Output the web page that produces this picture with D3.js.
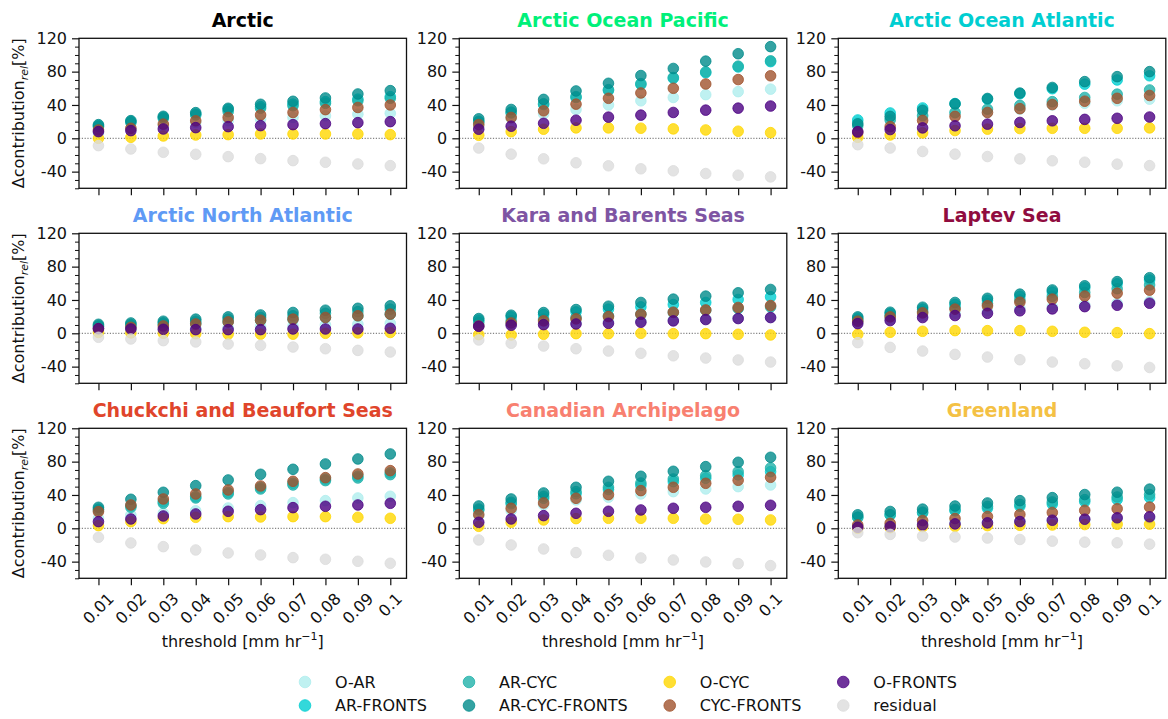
<!DOCTYPE html>
<html>
<head>
<meta charset="utf-8">
<script src="https://cdn.jsdelivr.net/npm/d3@7"></script>
<style>
  html, body { margin: 0; padding: 0; background: #fff; }
  svg { display: block; font-family: "DejaVu Sans", sans-serif; }
</style>
</head>
<body>
<svg id="chart" width="1168" height="719"></svg>
<script>
// Threshold categories (mm/hr)
const thresholds = ["0.01", "0.02", "0.03", "0.04", "0.05", "0.06", "0.07", "0.08", "0.09", "0.1"];

// Series, in drawing order
const seriesNames = ["O-AR", "AR-FRONTS", "AR-CYC", "AR-CYC-FRONTS", "O-CYC", "CYC-FRONTS", "O-FRONTS", "residual"];
const seriesColors = ["#afeeee", "#00ced1", "#20b2aa", "#008b8b", "#ffd700", "#a0522d", "#4b0082", "#dcdcdc"];

// Region panels
const regionNames = ["Arctic", "Arctic Ocean Pacific", "Arctic Ocean Atlantic",
  "Arctic North Atlantic", "Kara and Barents Seas", "Laptev Sea",
  "Chuckchi and Beaufort Seas", "Canadian Archipelago", "Greenland"];
const regionColors = ["#000000", "#00f07a", "#00ced1",
  "#5f9af5", "#7e55a3", "#900c3f",
  "#e0452b", "#f88070", "#f4c144"];

const yTickValues = [-40, 0, 40, 80, 120];

// Δcontribution_rel [%] per region; rows follow seriesNames, columns follow thresholds
const arctic = [
  [7, 11, 15, 19, 21, 23, 25, 27, 29, 30],
  [15, 20, 25, 29, 34.4, 38, 41, 44, 47, 50],
  [14, 19, 24, 28, 32, 36, 39, 42, 45, 48],
  [16.4, 21.2, 26.4, 30.8, 36, 40.8, 44.4, 48.4, 53.2, 57.2],
  [0, 1.2, 2.8, 4, 4.4, 5.2, 5.2, 5.2, 5.2, 4.4],
  [10, 12, 17, 21, 25, 28, 31, 34.4, 37, 40],
  [8, 9.2, 11.2, 12.8, 14, 15.2, 16.4, 17.6, 18.8, 20],
  [-8.8, -12.8, -16.8, -19.2, -22, -24.4, -26.8, -28.8, -30.8, -32.8]
];
const arcticOceanPacific = [
  [15, 24, 29.4, 34.6, 40, 45, 49, 52.4, 56, 59],
  [19.5, 30.4, 40.5, 49, 57.4, 64.6, 72, 78.7, 85.6, 92],
  [20.5, 31.4, 41.5, 50, 58.4, 65.6, 72.9, 79.7, 86.6, 93],
  [23.4, 34.6, 46.7, 56.8, 66, 75.3, 83.8, 92.6, 101.5, 110],
  [3.6, 8, 10.9, 12.5, 12.5, 12.1, 11.3, 10, 8.5, 6.8],
  [16.5, 25, 33, 41, 48, 54.4, 60, 65.2, 70.5, 75],
  [10.9, 14.5, 18, 21.7, 25.4, 27.8, 31, 33.8, 36.2, 38.7],
  [-11.7, -19, -24.6, -29.4, -33, -36.6, -39, -42.3, -44.3, -46.3]
];
const arcticOceanAtlantic = [
  [19, 24, 28, 30, 31, 35, 40, 42, 45, 47],
  [22, 30.4, 36.4, 41.7, 47, 53.4, 59.5, 65, 70, 75],
  [15, 22, 27, 31, 35, 39.5, 44, 49, 53, 58],
  [17.4, 26.3, 33.6, 41.3, 47.8, 54.3, 61, 68, 74, 80],
  [1.2, 4, 6.5, 9.3, 11, 11.7, 12, 12, 12, 12.5],
  [7, 14, 21.5, 26.3, 31, 35.6, 40.5, 44.5, 48, 51.4],
  [8, 10.5, 12.5, 15, 17, 19, 21, 22.7, 24, 25.5],
  [-7.7, -11.7, -15.8, -19, -21.9, -24.7, -27, -28.7, -31, -32.8]
];
const arcticNorthAtlantic = [
  [3, 4, 5, 6, 7, 8, 9, 10, 11, 12],
  [8, 9, 11, 12, 14, 15.5, 17, 19, 21, 23],
  [9, 10.5, 12.5, 14.5, 17, 19, 21, 24, 26, 29],
  [10.8, 12.4, 14.5, 17, 19.7, 22, 25, 27.7, 30, 33],
  [1, 0.5, 0, -0.5, -1, -1, -1, 0, 0.5, 1],
  [5.6, 7.2, 8.8, 11.2, 13.7, 15.7, 17, 19, 21, 23],
  [5.6, 5.2, 4.8, 4.4, 4.4, 4.4, 5.2, 5.2, 5.2, 6],
  [-4.8, -6.8, -8.8, -10.4, -12.9, -14.5, -16.5, -18.5, -20.5, -22.5]
];
const karaBarents = [
  [9, 11, 12, 13, 14, 15, 16, 17, 18, 19],
  [15.7, 19.7, 22.5, 25.7, 29, 31.7, 34.5, 37, 40.6, 43.8],
  [13, 15, 17, 19, 21, 23, 25, 27.7, 29.7, 31.7],
  [17.7, 21.7, 24.9, 28.5, 32.5, 37, 41, 44.6, 48.6, 52.6],
  [-1.6, -2, -1.2, -0.4, -0.4, 0, -0.4, -0.4, -1.2, -2],
  [8.8, 12.4, 14.9, 17.3, 20, 22.9, 25.3, 28, 31, 33.3],
  [8.4, 9.6, 10.4, 11.2, 12, 13.3, 14.9, 16.5, 17.7, 18.9],
  [-8, -12, -15.3, -18.5, -21.3, -24, -27, -29.7, -32, -34.5]
];
const laptev = [
  [13, 17, 21, 24, 27, 30, 32, 34, 36, 38],
  [18, 23.5, 29, 34.5, 39.5, 44.5, 49.5, 54.5, 59.5, 64],
  [16, 21, 26, 31, 35.5, 40, 44.5, 49, 53.5, 58],
  [19.7, 25.3, 31.3, 37, 42, 47, 52, 57, 62, 66.7],
  [-1.2, 1.2, 2.4, 3.2, 3.2, 3.2, 2.4, 1.2, 0.8, -0.4],
  [14.5, 19.7, 24.5, 29, 33, 37.3, 41, 44.6, 48.2, 51.8],
  [11.6, 15.3, 18.9, 21.3, 24, 27, 29.3, 32, 33.7, 36.1],
  [-11.2, -16.9, -21.3, -25.3, -28.5, -31.7, -34.5, -36.5, -39, -41]
];
const chukchiBeaufort = [
  [12, 16, 18, 21, 24.4, 27.2, 30.8, 33.2, 36.4, 38.4],
  [23, 27, 32, 38, 43, 49, 54, 59, 62.5, 66.5],
  [22, 25.2, 30, 36.4, 41.2, 47.2, 52, 57.2, 60.4, 64.4],
  [25.2, 34.8, 43.2, 51.2, 58, 64.8, 70.8, 77.2, 83.2, 89.2],
  [3.2, 8, 11.6, 13.2, 14, 13.6, 14, 14, 13.2, 12],
  [20, 28, 35.2, 41.2, 46, 50.8, 56.4, 60.8, 65.2, 69.2],
  [8, 11.2, 14.8, 17.2, 20.4, 22.4, 24.8, 26.4, 28, 30],
  [-10.8, -17.6, -22, -26, -29.6, -32, -35.2, -37.2, -39.6, -42]
];
const canadianArchipelago = [
  [15.2, 21.2, 28.4, 34, 37.2, 41.2, 44, 47.2, 50, 52],
  [22, 29.5, 36, 41.5, 46.5, 51.5, 56, 60, 64, 68],
  [23.2, 31.2, 38.4, 44, 49.2, 54.4, 59.2, 63.2, 68, 72.4],
  [26.8, 35.2, 42.4, 49.2, 56.4, 62.4, 68.4, 74, 79.2, 85.2],
  [2.4, 7.2, 10, 11.6, 12, 12, 12, 11.2, 10.8, 10],
  [16.4, 24, 30.4, 36, 40.4, 45.2, 49.2, 54, 57.6, 61.2],
  [7.2, 11.2, 15.2, 18, 20.4, 22, 24, 25.2, 26.4, 27.6],
  [-14, -20, -24.8, -29.2, -32.4, -35.6, -38, -40.4, -42.4, -44.8]
];
const greenland = [
  [2, 3, 5, 6, 7, 8, 9, 10, 11, 12],
  [13, 16, 18.5, 21, 24, 26.5, 29, 32, 34.5, 37],
  [13.4, 16.2, 19.4, 22.7, 26.3, 28.7, 31.6, 34.4, 37.6, 40.5],
  [16.2, 20.2, 23, 26.7, 30.4, 33.2, 36.8, 40.5, 43.3, 47],
  [0, 0.8, 2, 2.4, 3.2, 3.6, 4, 4.5, 4.9, 4.9],
  [4, 6, 9.3, 11.7, 14.2, 16.6, 19, 21.5, 23.5, 25.5],
  [1.2, 2, 4, 5.3, 6.5, 8.1, 9.7, 10.9, 12.6, 13.8],
  [-5.3, -7.3, -9.3, -10.5, -11.7, -13.4, -15.4, -16.6, -17.4, -19]
];
const regionValues = [arctic, arcticOceanPacific, arcticOceanAtlantic,
  arcticNorthAtlantic, karaBarents, laptev,
  chukchiBeaufort, canadianArchipelago, greenland];

// ---- layout ----
const svg = d3.select("#chart");
const colLeft = [79, 459.3, 838.3];
const rowTop = [38.3, 233.3, 428.3];
const panelW = 327.5, panelH = 150;
const markerR = 5.3;
const tickFont = 16;

const x = d3.scaleLinear().domain([-0.6, 9.5]).range([0, panelW]);
const y = d3.scaleLinear().domain([-60, 120]).range([panelH, 0]);

regionNames.forEach((name, i) => {
  const row = Math.floor(i / 3), col = i % 3;
  const g = svg.append("g").attr("transform", `translate(${colLeft[col]},${rowTop[row]})`);
  const values = regionValues[i];

  // zero reference line
  g.append("line")
    .attr("x1", 0).attr("x2", panelW)
    .attr("y1", y(0)).attr("y2", y(0))
    .attr("stroke", "#666").attr("stroke-width", 1)
    .attr("stroke-dasharray", "1.2,1.6");

  // scatter points, one layer per series
  seriesNames.forEach((s, si) => {
    g.append("g").selectAll("circle")
      .data(values[si])
      .join("circle")
      .attr("cx", (d, k) => x(k))
      .attr("cy", d => y(d))
      .attr("r", markerR)
      .attr("fill", seriesColors[si])
      .attr("fill-opacity", 0.8)
      .attr("stroke", seriesColors[si])
      .attr("stroke-opacity", 0.8)
      .attr("stroke-width", 1);
  });

  // frame
  g.append("rect")
    .attr("width", panelW).attr("height", panelH)
    .attr("fill", "none").attr("stroke", "#111").attr("stroke-width", 1.3);

  // y axis: major + minor ticks
  const yAxis = d3.axisLeft(y).tickValues(yTickValues).tickSize(7).tickPadding(5)
    .tickFormat(d => d < 0 ? "-" + Math.abs(d) : String(d));
  const ya = g.append("g").call(yAxis);
  ya.select(".domain").remove();
  ya.selectAll("line").attr("stroke", "#111").attr("stroke-width", 1.2);
  ya.selectAll("text").attr("font-size", tickFont).attr("fill", "#111")
    .attr("font-family", "DejaVu Sans");
  const minor = d3.range(-60, 121, 10).filter(v => !yTickValues.includes(v));
  const ym = g.append("g").call(d3.axisLeft(y).tickValues(minor).tickSize(4).tickFormat(""));
  ym.select(".domain").remove();
  ym.selectAll("line").attr("stroke", "#111").attr("stroke-width", 1);

  // x axis ticks
  const xAxis = d3.axisBottom(x).tickValues(d3.range(thresholds.length)).tickSize(7).tickFormat("");
  const xa = g.append("g").attr("transform", `translate(0,${panelH})`).call(xAxis);
  xa.select(".domain").remove();
  xa.selectAll("line").attr("stroke", "#111").attr("stroke-width", 1.2);

  // rotated threshold labels, bottom row only
  if (row === 2) {
    const lab = g.append("g");
    thresholds.forEach((t, k) => {
      const txt = lab.append("text")
        .attr("font-size", tickFont).attr("fill", "#111")
        .attr("text-anchor", "middle").attr("dominant-baseline", "central")
        .text(t);
      const w = txt.node().getComputedTextLength();
      const half = (w + tickFont * 1.15) / Math.SQRT2 / 2;
      const cx = x(k), cy = panelH + 7 + 4 + half;
      txt.attr("x", cx).attr("y", cy).attr("transform", `rotate(-45,${cx},${cy})`);
    });
    const xl = g.append("text")
      .attr("x", panelW / 2).attr("y", 647 - rowTop[2])
      .attr("text-anchor", "middle").attr("font-size", 16).attr("fill", "#111");
    xl.append("tspan").text("threshold [mm hr");
    xl.append("tspan").attr("font-size", 11).attr("dy", -7).text("\u22121");
    xl.append("tspan").attr("dy", 7).text("]");
  }

  // y label, left column only
  if (col === 0) {
    const yl = g.append("text")
      .attr("transform", `translate(${24 - colLeft[0]},${panelH / 2}) rotate(-90)`)
      .attr("text-anchor", "middle").attr("font-size", 16).attr("fill", "#111");
    yl.append("tspan").text("\u0394contribution");
    yl.append("tspan").attr("font-size", 11).attr("font-style", "italic").attr("dy", 4).text("rel");
    yl.append("tspan").attr("dy", -4).text("[%]");
  }

  // panel title
  g.append("text")
    .attr("x", panelW / 2).attr("y", -11.5)
    .attr("text-anchor", "middle")
    .attr("font-size", 19).attr("font-weight", "bold")
    .attr("fill", regionColors[i])
    .text(name);
});

// ---- legend: 4 columns, filled column by column ----
const legend = svg.append("g");
const legendRows = [682, 705.5];
const markerToText = 30, colGap = 42;
let colX = 305;
for (let c = 0; c < 4; c++) {
  let maxW = 0;
  for (let r = 0; r < 2; r++) {
    const si = c * 2 + r;
    legend.append("circle")
      .attr("cx", colX).attr("cy", legendRows[r]).attr("r", markerR + 0.5)
      .attr("fill", seriesColors[si]).attr("fill-opacity", 0.8)
      .attr("stroke", seriesColors[si]).attr("stroke-opacity", 0.8).attr("stroke-width", 1);
    const t = legend.append("text")
      .attr("x", colX + markerToText).attr("y", legendRows[r])
      .attr("dominant-baseline", "central")
      .attr("font-size", 16).attr("fill", "#111")
      .text(seriesNames[si]);
    maxW = Math.max(maxW, t.node().getComputedTextLength());
  }
  colX += markerToText + maxW + colGap;
}
</script>
</body>
</html>
